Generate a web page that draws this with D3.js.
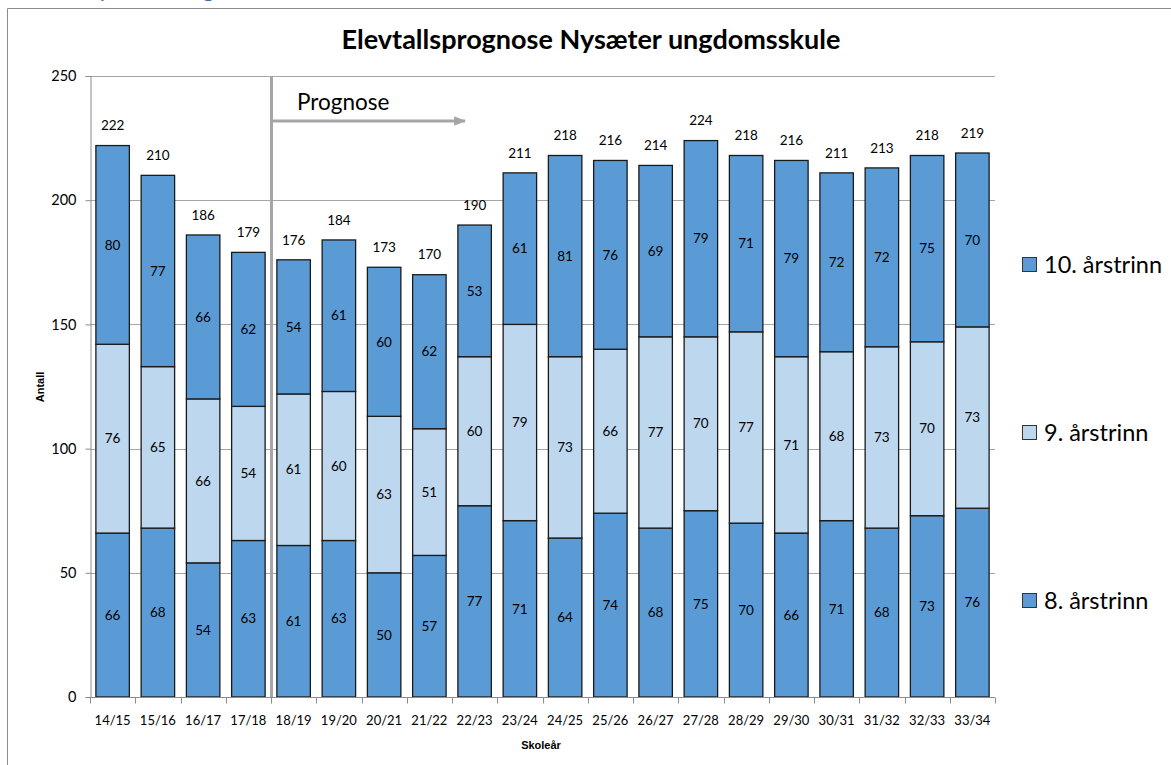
<!DOCTYPE html>
<html>
<head>
<meta charset="utf-8">
<script src="https://cdn.jsdelivr.net/npm/d3@7"></script>
<style>
  body { margin: 0; background: #fff; }
  svg { display: block; font-family: Lato, "Open Sans", sans-serif; }
</style>
</head>
<body>
<svg id="chart"></svg>
<script>
let width = 1171;
let height = 765;

// data
let categories = ["14/15", "15/16", "16/17", "17/18", "18/19", "19/20", "20/21", "21/22", "22/23", "23/24",
    "24/25", "25/26", "26/27", "27/28", "28/29", "29/30", "30/31", "31/32", "32/33", "33/34"];
let trinn8 = [66, 68, 54, 63, 61, 63, 50, 57, 77, 71, 64, 74, 68, 75, 70, 66, 71, 68, 73, 76];
let trinn9 = [76, 65, 66, 54, 61, 60, 63, 51, 60, 79, 73, 66, 77, 70, 77, 71, 68, 73, 70, 73];
let trinn10 = [80, 77, 66, 62, 54, 61, 60, 62, 53, 61, 81, 76, 69, 79, 71, 79, 72, 72, 75, 70];
let seriesNames = ["8. årstrinn", "9. årstrinn", "10. årstrinn"];
let yTicks = [0, 50, 100, 150, 200, 250];
let prognoseStart = "18/19";

let blue = "#5b9bd5";
let lightBlue = "#bdd7ee";
let colors = [blue, lightBlue, blue];

let svg = d3.select("#chart")
    .attr("width", width)
    .attr("height", height);

// page heading, mostly cut off above the picture (as in the original)
svg.append("text")
    .attr("x", 80).attr("y", -3)
    .attr("fill", "#2e74b5")
    .style("font-size", "24px")
    .text("Nysæter ungdomsskule");

// chart frame (cut at right and bottom)
svg.append("path")
    .attr("d", "M7.5," + (height + 5) + "V8.5H" + (width + 5))
    .attr("fill", "none")
    .attr("stroke", "#8c8c8c")
    .attr("stroke-width", 1);

let x = d3.scaleBand()
    .domain(categories)
    .range([90, 995])
    .paddingInner(0.26)
    .paddingOuter(0.13);

let y = d3.scaleLinear()
    .domain([0, 250])
    .range([697, 76]);

// gridlines
svg.append("g")
    .selectAll("line")
    .data(yTicks.filter(d => d > 0))
    .enter().append("line")
    .attr("x1", 90).attr("x2", 995)
    .attr("y1", d => Math.round(y(d)) + 0.5)
    .attr("y2", d => Math.round(y(d)) + 0.5)
    .attr("stroke", "#a6a6a6");

// stacked data
let table = categories.map((c, i) => ({ cat: c, t8: trinn8[i], t9: trinn9[i], t10: trinn10[i] }));
let stack = d3.stack().keys(["t8", "t9", "t10"])(table);

let layers = svg.append("g")
    .selectAll("g")
    .data(stack)
    .enter().append("g")
    .attr("fill", (d, i) => colors[i]);

layers.selectAll("rect")
    .data(d => d)
    .enter().append("rect")
    .attr("x", d => x(d.data.cat))
    .attr("width", x.bandwidth())
    .attr("y", d => y(d[1]))
    .attr("height", d => y(d[0]) - y(d[1]))
    .attr("stroke", "#1a1a1a")
    .attr("stroke-width", 1.3);

// value labels inside segments
layers.selectAll("text")
    .data(d => d)
    .enter().append("text")
    .attr("x", d => x(d.data.cat) + x.bandwidth() / 2)
    .attr("y", d => (y(d[0]) + y(d[1])) / 2)
    .attr("dy", "0.35em")
    .attr("text-anchor", "middle")
    .attr("fill", "#000")
    .style("font-size", "13.5px")
    .text(d => d[1] - d[0]);

// totals above bars
svg.append("g")
    .selectAll("text")
    .data(table)
    .enter().append("text")
    .attr("x", d => x(d.cat) + x.bandwidth() / 2)
    .attr("y", d => y(d.t8 + d.t9 + d.t10) - 20)
    .attr("dy", "0.35em")
    .attr("text-anchor", "middle")
    .style("font-size", "13.5px")
    .text(d => d.t8 + d.t9 + d.t10);

// y axis
let yAxis = d3.axisLeft(y).tickValues(yTicks).tickSize(5).tickPadding(9);
let gy = svg.append("g")
    .attr("transform", "translate(90.5,0)")
    .call(yAxis);
gy.selectAll("path, line").attr("stroke", "#8c8c8c");
gy.selectAll("text").style("font-size", "14.5px").attr("fill", "#000").style("font-family", "Lato");

// x axis with ticks on band boundaries
let gx = svg.append("g")
    .attr("transform", "translate(0,697.5)");
gx.append("line")
    .attr("x1", 90).attr("x2", 995)
    .attr("stroke", "#8c8c8c");
let step = x.step();
let edges = categories.map(c => x(c) - x.paddingInner() * step / 2).concat([995]);
gx.selectAll(".tick")
    .data(edges)
    .enter().append("line")
    .attr("x1", d => Math.round(d) + 0.5).attr("x2", d => Math.round(d) + 0.5)
    .attr("y1", 0).attr("y2", 6)
    .attr("stroke", "#8c8c8c");
gx.selectAll("text")
    .data(categories)
    .enter().append("text")
    .attr("x", d => x(d) + x.bandwidth() / 2)
    .attr("y", 27)
    .attr("text-anchor", "middle")
    .style("font-size", "13px")
    .text(d => d);

// axis titles
svg.append("text")
    .attr("x", 541).attr("y", 749)
    .attr("text-anchor", "middle")
    .style("font-family", "'Liberation Sans', Arial, sans-serif")
    .style("font-size", "11px").style("font-weight", "bold")
    .text("Skoleår");
svg.append("text")
    .attr("transform", "translate(44,387) rotate(-90)")
    .attr("text-anchor", "middle")
    .style("font-family", "'Liberation Sans', Arial, sans-serif")
    .style("font-size", "11px").style("font-weight", "bold")
    .text("Antall");

// chart title
svg.append("text")
    .attr("x", 591).attr("y", 49)
    .attr("text-anchor", "middle")
    .style("font-size", "27px").style("font-weight", "bold")
    .text("Elevtallsprognose Nysæter ungdomsskule");

// prognose marker
let px = Math.round(x(prognoseStart) - x.paddingInner() * step / 2) + 0.5;
svg.append("line")
    .attr("x1", px).attr("x2", px)
    .attr("y1", y(250)).attr("y2", y(0))
    .attr("stroke", "#a6a6a6").attr("stroke-width", 3);
svg.append("defs").append("marker")
    .attr("id", "arrow")
    .attr("viewBox", "0 0 10 10")
    .attr("refX", 9).attr("refY", 5)
    .attr("markerWidth", 4).attr("markerHeight", 4)
    .attr("orient", "auto")
    .append("path")
    .attr("d", "M0,1L10,5L0,9Z")
    .attr("fill", "#a6a6a6");
svg.append("line")
    .attr("x1", px).attr("x2", 465)
    .attr("y1", 121).attr("y2", 121)
    .attr("stroke", "#a6a6a6").attr("stroke-width", 3)
    .attr("marker-end", "url(#arrow)");
svg.append("text")
    .attr("x", 297).attr("y", 110)
    .style("font-size", "22.5px")
    .text("Prognose");

// legend
let legendY = [601, 433, 265];
let legend = svg.append("g")
    .selectAll("g")
    .data(seriesNames)
    .enter().append("g")
    .attr("transform", (d, i) => "translate(1022," + legendY[i] + ")");
legend.append("rect")
    .attr("x", 0.5).attr("y", -7.5)
    .attr("width", 14).attr("height", 14)
    .attr("fill", (d, i) => colors[i])
    .attr("stroke", "#333");
legend.append("text")
    .attr("x", 22).attr("y", 0)
    .attr("dy", "0.35em")
    .style("font-size", "23.5px")
    .text(d => d);
</script>
</body>
</html>
